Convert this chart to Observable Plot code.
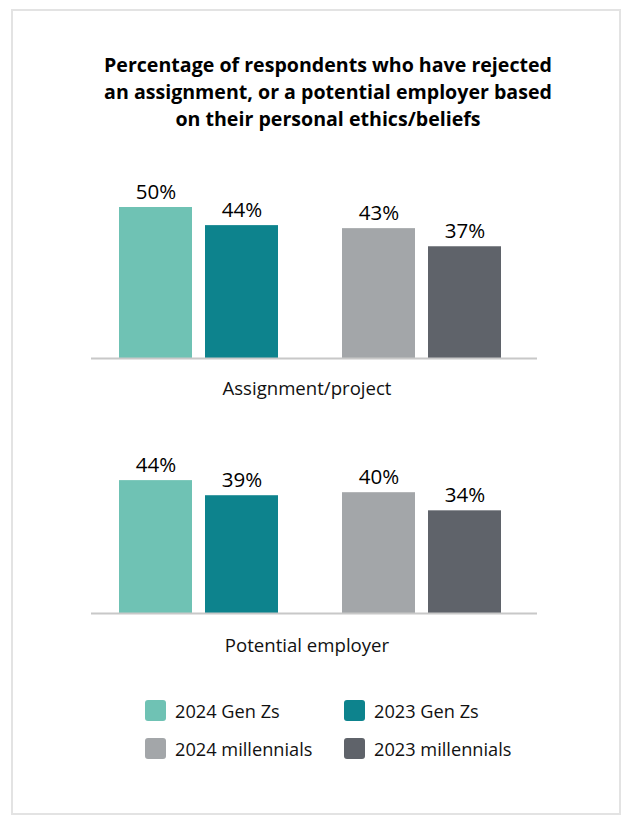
<!DOCTYPE html>
<html>
<head>
<meta charset="utf-8">
<script src="https://cdn.jsdelivr.net/npm/d3@7"></script>
<script src="https://cdn.jsdelivr.net/npm/@observablehq/plot@0.6"></script>
<style>
  html, body { margin: 0; padding: 0; background: #fff; }
  body { font-family: "Open Sans", sans-serif; color: #111; }
  #page { position: relative; width: 632px; height: 826px; overflow: hidden; }
  #box { position: absolute; left: 11px; top: 9px; width: 606px; height: 802px; border: 2px solid #e3e3e3; }
  #title { position: absolute; left: 28px; width: 600px; top: 51px; text-align: center;
           font-weight: 700; font-size: 19.6px; line-height: 27px; color: #000; }
  .panel { position: absolute; left: 0; }
  .cat { position: absolute; left: 0; width: 614px; text-align: center; font-size: 18.6px; line-height: 18px; color: #111; }
  #legend { position: absolute; left: 145px; top: 700px; display: grid;
            grid-template-columns: 199px 200px; row-gap: 17px; }
  .item { display: flex; align-items: center; height: 21px; font-size: 18.2px; line-height: 18px; color: #111; }
  .sw { width: 21px; height: 21px; border-radius: 3px; margin-right: 9px; flex: none; }
</style>
</head>
<body>
<div id="page">
  <div id="box"></div>
  <div id="title"></div>
  <div class="panel" id="p1" style="top:167px"></div>
  <div class="cat" id="c1" style="top:379px"></div>
  <div class="panel" id="p2" style="top:422px"></div>
  <div class="cat" id="c2" style="top:636px"></div>
  <div id="legend"></div>
</div>
<script>
// ---- data ----
const titleLines = [
  "Percentage of respondents who have rejected",
  "an assignment, or a potential employer based",
  "on their personal ethics/beliefs"
];
const panels = ["Assignment/project", "Potential employer"];
const series = ["2024 Gen Zs", "2023 Gen Zs", "2024 millennials", "2023 millennials"];
const generation = ["Gen Zs", "Gen Zs", "millennials", "millennials"];
const year = ["2024", "2023", "2024", "2023"];
const assignmentValues = [50, 44, 43, 37];
const employerValues = [44, 39, 40, 34];
const colors = ["#6fc2b4", "#0d838d", "#a3a6a9", "#5f636a"];

// ---- title ----
document.getElementById("title").innerHTML = titleLines.join("<br>");

function makePanel(values) {
  const data = series.map((s, i) => ({series: s, generation: generation[i], year: year[i], value: values[i]}));
  return Plot.plot({
    width: 632,
    height: 193,
    marginLeft: 90,
    marginRight: 95,
    marginTop: 40,
    marginBottom: 2,
    style: {fontFamily: "Open Sans", background: "transparent"},
    fx: {domain: ["Gen Zs", "millennials"], padding: 0, axis: null},
    x: {domain: ["2024", "2023"], insetLeft: 28, insetRight: 35, paddingInner: 0.15, paddingOuter: 0, axis: null},
    y: {domain: [0, 50], axis: null},
    color: {domain: series, range: colors},
    marks: [
      Plot.barY(data, {fx: "generation", x: "year", y: "value", fill: "series"}),
      Plot.ruleY([0], {stroke: "#c8c8c8", strokeWidth: 2}),
      Plot.text(data, {fx: "generation", x: "year", y: "value", text: d => d.value + "%",
        dy: -9, lineAnchor: "bottom", fontSize: 20.5, fill: "#000"})
    ]
  });
}

document.getElementById("p1").appendChild(makePanel(assignmentValues));
document.getElementById("p2").appendChild(makePanel(employerValues));
document.getElementById("c1").textContent = panels[0];
document.getElementById("c2").textContent = panels[1];

// ---- legend ----
const legend = document.getElementById("legend");
series.forEach((s, i) => {
  const item = document.createElement("div");
  item.className = "item";
  const sw = document.createElement("span");
  sw.className = "sw";
  sw.style.background = colors[i];
  const t = document.createElement("span");
  t.textContent = s;
  item.appendChild(sw);
  item.appendChild(t);
  legend.appendChild(item);
});
</script>
</body>
</html>
